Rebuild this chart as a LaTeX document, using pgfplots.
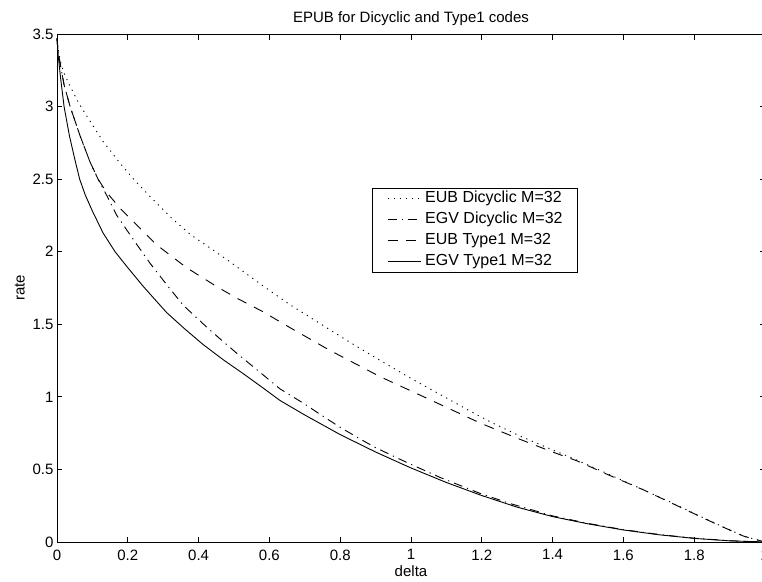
\documentclass[border=0pt]{standalone}
\usepackage{fontspec}
\setmainfont{Liberation Sans}
\usepackage{pgfplots}
\pgfplotsset{compat=1.18}
\begin{document}
\begin{tikzpicture}
\begin{axis}[
  at={(0pt,0pt)}, anchor=south west,
  scale only axis, width=708pt, height=508pt,
  xmin=0, xmax=2, ymin=0, ymax=3.5,
  xtick={0,0.2,0.4,0.6,0.8,1,1.2,1.4,1.6,1.8,2},
  xticklabels={0,0.2,0.4,0.6,0.8,1,1.2,1.4,1.6,1.8,2},
  ytick={0,0.5,1,1.5,2,2.5,3,3.5},
  yticklabels={0,0.5,1,1.5,2,2.5,3,3.5},
  font=\fontsize{15}{18}\selectfont,
  /pgf/number format/assume math mode=true,
  major tick length=5.5pt,
  axis line style={line width=0.9pt},
  every tick/.style={black, line width=0.8pt},
  xticklabel style={yshift=-4pt},
  xlabel={delta},
  xlabel style={at={(axis description cs:0.5,-0.0679)}, anchor=base, yshift=0pt},
  ylabel={rate},
  ylabel style={at={(axis description cs:-0.0523,0.5)}, anchor=center},
  legend image post style={xscale=1.933},
  legend style={at={(axis description cs:0.445,0.697)}, anchor=north west,
    draw=black, line width=0.8pt, fill=white, inner xsep=0pt, inner ysep=0pt,
    minimum width=205pt,
    row sep=0pt, column sep=4pt,
    nodes={inner xsep=0pt, inner ysep=3pt, text height=11.5pt, text depth=3.5pt, minimum width=0pt},
    font=\fontsize{16}{19}\selectfont},
  legend cell align=left,
  clip=false,
]
\node[anchor=base, font=\fontsize{15}{18}\selectfont] at (axis description cs:0.5,1.0217) {EPUB for Dicyclic and Type1 codes};
% EUB Dicyclic M=32 (dotted)
\addplot[black, line width=0.9pt, dash pattern=on 1.2pt off 4.8pt] coordinates {
(0,3.47) (0.003,3.40) (0.01,3.31) (0.018,3.24) (0.037,3.14) (0.06,3.03) (0.088,2.92)
(0.13,2.76) (0.178,2.61) (0.22,2.49) (0.263,2.38) (0.32,2.24) (0.376,2.12) (0.43,2.03)
(0.489,1.93) (0.573,1.78) (0.658,1.635) (0.74,1.51) (0.818,1.39) (0.91,1.255) (1.007,1.117)
(1.08,1.02) (1.157,0.915) (1.23,0.82) (1.308,0.73) (1.39,0.645) (1.468,0.565) (1.56,0.465)
(1.656,0.36) (1.73,0.278) (1.797,0.2) (1.87,0.117) (1.94,0.04) (2,0)};
% EGV Dicyclic M=32 (dash-dot)
\addplot[black, line width=0.9pt, dash pattern=on 9pt off 5pt on 1.2pt off 5pt] coordinates {
(0,3.47) (0.003,3.38) (0.01,3.28) (0.02,3.15) (0.037,3.0) (0.065,2.8) (0.093,2.62)
(0.116,2.5) (0.14,2.39) (0.169,2.25) (0.211,2.10) (0.263,1.92) (0.314,1.76) (0.357,1.63)
(0.432,1.46) (0.508,1.30) (0.583,1.15) (0.63,1.055) (0.7,0.95) (0.743,0.88) (0.8,0.79)
(0.856,0.71) (0.9,0.65) (0.969,0.57) (1.0,0.535) (1.082,0.445) (1.195,0.335) (1.28,0.265)
(1.4,0.18) (1.5,0.128) (1.6,0.085) (1.7,0.052) (1.8,0.026) (1.9,0.009) (2,0)};
% EUB Type1 M=32 (dashed)
\addplot[black, line width=0.9pt, dash pattern=on 10pt off 8.5pt] coordinates {
(0,3.47) (0.003,3.38) (0.01,3.28) (0.02,3.15) (0.037,3.0) (0.065,2.8) (0.093,2.62)
(0.116,2.5) (0.14,2.41) (0.178,2.30) (0.215,2.21) (0.28,2.05) (0.366,1.89) (0.451,1.76)
(0.508,1.68) (0.583,1.585) (0.649,1.49) (0.771,1.32) (0.912,1.14) (1.054,0.98) (1.195,0.82)
(1.30,0.715) (1.4,0.62) (1.468,0.56) (1.56,0.46) (1.656,0.36) (1.73,0.275) (1.797,0.198)
(1.87,0.115) (1.94,0.04) (2,0)};
% EGV Type1 M=32 (solid)
\addplot[black, line width=0.9pt, solid] coordinates {
(0,3.47) (0.003,3.36) (0.01,3.2) (0.02,3.0) (0.035,2.80) (0.05,2.64) (0.064,2.5) (0.08,2.39)
(0.1,2.28) (0.13,2.13) (0.164,2.0) (0.2,1.89) (0.244,1.76) (0.31,1.58) (0.36,1.47)
(0.413,1.36) (0.47,1.255) (0.526,1.16) (0.58,1.065) (0.63,0.975) (0.7,0.875) (0.8,0.74)
(0.9,0.62) (1.0,0.51) (1.1,0.41) (1.2,0.32) (1.3,0.24) (1.4,0.175) (1.5,0.125) (1.6,0.083)
(1.7,0.05) (1.8,0.025) (1.9,0.008) (2,0)};
\legend{EUB Dicyclic M=32,EGV Dicyclic M=32,EUB Type1 M=32,EGV Type1 M=32}
\end{axis}
\pgfresetboundingbox
\path[use as bounding box] (-57pt,-39pt) rectangle (705pt,542pt);
\end{tikzpicture}
\end{document}
